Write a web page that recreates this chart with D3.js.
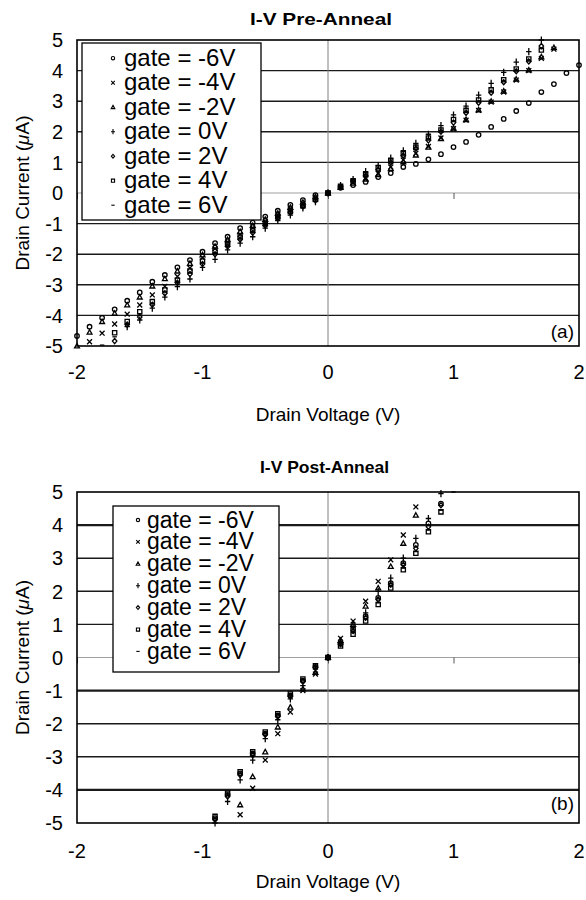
<!DOCTYPE html>
<html lang="en">
<head>
<meta charset="UTF-8">
<title>I-V Pre/Post Anneal</title>
<script src="https://d3js.org/d3.v7.min.js"></script>
<style>
  body { margin: 0; background: #fff; }
  svg { display: block; font-family: "Liberation Sans", Arial, sans-serif; }
</style>
</head>
<body>
<div id="chart"></div>
<script>
// gate voltages and labels
const gates = ["-6V", "-4V", "-2V", "0V", "2V", "4V", "6V"];

// pre-anneal: drain voltage sweep
const preVolts = [-2.0,-1.9,-1.8,-1.7,-1.6,-1.5,-1.4,-1.3,-1.2,-1.1,-1.0,-0.9,-0.8,-0.7,-0.6,-0.5,-0.4,-0.3,-0.2,-0.1,
  0,0.1,0.2,0.3,0.4,0.5,0.6,0.7,0.8,0.9,1.0,1.1,1.2,1.3,1.4,1.5,1.6,1.7,1.8,1.9,2.0];
const preM6 = [-4.67,-4.37,-4.08,-3.8,-3.52,-3.25,-2.9,-2.68,-2.43,-2.19,-1.92,-1.64,-1.43,-1.15,-0.97,-0.77,-0.58,-0.39,-0.23,-0.07,
  0,0.17,0.26,0.36,0.52,0.65,0.85,0.95,1.1,1.27,1.5,1.67,1.9,2.16,2.42,2.68,2.94,3.3,3.56,3.92,4.18];
const preM4 = [null,-4.86,-4.58,-4.28,-3.96,-3.66,-3.33,-3.05,-2.73,-2.45,-2.12,-1.82,-1.6,-1.36,-1.14,-0.93,-0.72,-0.53,-0.35,-0.15,
  0,0.2,0.34,0.48,0.64,0.85,1.08,1.3,1.52,1.8,2.1,2.38,2.7,2.97,3.3,3.69,4.0,4.4,4.7,null,null];
const preM2 = [-5.0,-4.55,-4.2,-3.93,-3.66,-3.4,-3.04,-2.8,-2.55,-2.3,-2.02,-1.74,-1.52,-1.26,-1.06,-0.86,-0.66,-0.47,-0.3,-0.12,
  0,0.18,0.32,0.45,0.6,0.8,1.02,1.24,1.5,1.78,2.12,2.4,2.72,3.0,3.33,3.72,4.02,4.45,4.75,null,null];
const pre0 = [null,null,null,null,-4.37,-4.15,-3.76,-3.4,-3.06,-2.81,-2.43,-2.17,-1.86,-1.64,-1.43,-1.15,-0.9,-0.72,-0.49,-0.28,
  0,0.24,0.44,0.7,0.9,1.14,1.38,1.62,1.92,2.2,2.55,2.84,3.2,3.58,3.94,4.28,4.62,5.0,null,null,null];
const preP2 = [null,null,null,-4.84,-4.3,-4.05,-3.65,-3.28,-2.93,-2.65,-2.32,-2.0,-1.75,-1.52,-1.3,-1.06,-0.82,-0.64,-0.44,-0.24,
  0,0.21,0.38,0.56,0.76,1.0,1.22,1.45,1.72,2.0,2.3,2.62,2.95,3.28,3.62,3.98,4.3,4.8,null,null,null];
const preP4 = [null,null,null,-4.57,-4.2,-3.88,-3.55,-3.17,-2.85,-2.55,-2.22,-1.9,-1.67,-1.44,-1.22,-1.0,-0.78,-0.6,-0.4,-0.2,
  0,0.22,0.4,0.6,0.82,1.05,1.28,1.5,1.8,2.06,2.4,2.7,3.04,3.37,3.7,4.05,4.38,4.67,null,null,null];
const preP6 = [null,null,-4.97,-4.7,-4.3,-3.95,-3.6,-3.22,-2.9,-2.6,-2.28,-1.95,-1.7,-1.48,-1.26,-1.03,-0.8,-0.62,-0.42,-0.22,
  0,0.22,0.4,0.58,0.8,1.02,1.25,1.48,1.76,2.03,2.35,2.66,3.0,3.32,3.66,4.0,4.34,4.72,null,null,null];

// post-anneal
const postVolts = [-0.9,-0.8,-0.7,-0.6,-0.5,-0.4,-0.3,-0.2,-0.1,0,0.1,0.2,0.3,0.4,0.5,0.6,0.7,0.8,0.9,1.0];
const postM6 = [-4.85,-4.15,-3.5,-2.9,-2.3,-1.75,-1.15,-0.7,-0.28,0,0.42,0.85,1.25,1.8,2.25,2.85,3.4,4.05,4.65,null];
const postM4 = [null,null,-4.75,-3.95,-3.1,-2.3,-1.65,-1.0,-0.5,0,0.58,1.1,1.7,2.3,2.95,3.7,4.55,null,null,null];
const postM2 = [null,null,-4.45,-3.6,-2.85,-2.1,-1.5,-0.95,-0.45,0,0.52,1.0,1.55,2.1,2.75,3.45,4.3,null,null,null];
const post0 = [-5.0,-4.35,-3.7,-3.1,-2.45,-1.88,-1.25,-0.85,-0.35,0,0.45,0.9,1.35,2.0,2.4,3.0,3.6,4.2,4.95,null];
const postP2 = [-4.9,-4.2,-3.55,-2.95,-2.33,-1.78,-1.18,-0.72,-0.3,0,0.4,0.8,1.2,1.75,2.2,2.8,3.3,3.95,4.6,null];
const postP4 = [-4.8,-4.1,-3.45,-2.85,-2.25,-1.7,-1.1,-0.65,-0.25,0,0.35,0.7,1.1,1.6,2.1,2.65,3.15,3.8,4.4,null];
const postP6 = [-4.85,-4.12,-3.5,-2.87,-2.27,-1.72,-1.12,-0.68,-0.27,0,0.38,0.75,1.15,1.65,2.15,2.7,3.2,3.85,4.45,5.0];

const xTicks = [-2, -1, 0, 1, 2];
const yTicks = [-5, -4, -3, -2, -1, 0, 1, 2, 3, 4, 5];

// marker shapes, size = (2r)^2
const half = s => Math.sqrt(s) / 2;
const markers = [
  { draw(c, s) { const r = half(s); c.moveTo(r, 0); c.arc(0, 0, r, 0, 2 * Math.PI); } },
  { draw(c, s) { const r = half(s) * 1.1; c.moveTo(-r, -r); c.lineTo(r, r); c.moveTo(-r, r); c.lineTo(r, -r); } },
  { draw(c, s) { const r = half(s) * 1.1; c.moveTo(0, -r); c.lineTo(r, r * 0.8); c.lineTo(-r, r * 0.8); c.closePath(); } },
  { draw(c, s) { const r = half(s); c.moveTo(0, -r * 1.6); c.lineTo(0, r * 1.6); c.moveTo(-r * 1.2, 0); c.lineTo(r * 1.2, 0); } },
  { draw(c, s) { const r = half(s); c.moveTo(0, -r * 1.15); c.lineTo(r, 0); c.lineTo(0, r * 1.15); c.lineTo(-r, 0); c.closePath(); } },
  { draw(c, s) { const r = half(s) * 0.95; c.rect(-r, -r, 2 * r, 2 * r); } },
  { draw(c, s) { const r = half(s); c.moveTo(-r, 0); c.lineTo(r, 0); } }
];

const W = 586, H = 900;
const svg = d3.select("#chart").append("svg").attr("width", W).attr("height", H);

function panel(cfg) {
  const x = d3.scaleLinear().domain([-2, 2]).range([77, 579]);
  const y = d3.scaleLinear().domain([-5, 5]).range([cfg.y1, cfg.y0]);
  const g = svg.append("g");

  // horizontal gridlines
  g.selectAll("line.grid").data(yTicks.filter(v => v !== 0 && Math.abs(v) !== 5)).join("line")
    .attr("x1", x(-2)).attr("x2", x(2))
    .attr("y1", d => y(d)).attr("y2", d => y(d))
    .attr("stroke", "#1a1a1a")
    .attr("stroke-width", d => cfg.heavy.includes(d) ? 2.2 : 1.4);

  g.append("line").attr("x1", x(-2)).attr("x2", x(2)).attr("y1", y(0)).attr("y2", y(0))
    .attr("stroke", "#a0a0a0").attr("stroke-width", 1.2);
  g.append("line").attr("x1", x(0)).attr("x2", x(0)).attr("y1", y(5)).attr("y2", y(-5))
    .attr("stroke", "#808080").attr("stroke-width", 1);

  // small tick marks along y=0
  g.append("g").attr("transform", `translate(0,${y(0)})`)
    .call(d3.axisBottom(x).tickValues(xTicks).tickSize(6).tickFormat(""))
    .call(a => a.select(".domain").remove())
    .call(a => a.selectAll("line").attr("stroke", "#555"));

  // data
  cfg.series.forEach((vals, si) => {
    const pts = cfg.volts.map((v, i) => [v, vals[i]]).filter(p => p[1] !== null);
    g.append("g").selectAll("path").data(pts).join("path")
      .attr("transform", d => `translate(${x(d[0])},${y(d[1])})`)
      .attr("d", d3.symbol().type(markers[si]).size(20))
      .attr("fill", "none").attr("stroke", "#000").attr("stroke-width", 1.3);
  });

  // frame
  g.append("rect").attr("x", x(-2)).attr("y", y(5))
    .attr("width", x(2) - x(-2)).attr("height", y(-5) - y(5))
    .attr("fill", "none").attr("stroke", "#000").attr("stroke-width", 1.6);

  // tick labels
  g.selectAll("text.yt").data(yTicks).join("text")
    .attr("x", 63).attr("y", d => y(d)).attr("dy", "0.36em")
    .attr("text-anchor", "end").attr("font-size", 20).text(d => d);
  g.selectAll("text.xt").data(xTicks).join("text")
    .attr("x", d => x(d)).attr("y", cfg.tickY)
    .attr("text-anchor", "middle").attr("font-size", 20).text(d => d);

  // titles
  g.append("text").attr("x", cfg.titleX).attr("y", cfg.titleY)
    .attr("text-anchor", "middle").attr("font-size", 17).attr("font-weight", "bold")
    .attr("textLength", cfg.titleLen).attr("lengthAdjust", "spacingAndGlyphs")
    .text(cfg.title);
  g.append("text").attr("x", x(0)).attr("y", cfg.xTitleY)
    .attr("text-anchor", "middle").attr("font-size", 19).text("Drain Voltage (V)");
  const yt = g.append("text").attr("transform", `translate(29,${(cfg.y0 + cfg.y1) / 2}) rotate(-90)`)
    .attr("text-anchor", "middle").attr("font-size", 19);
  yt.append("tspan").text("Drain Current (");
  yt.append("tspan").attr("font-style", "italic").text("\u03BC");
  yt.append("tspan").text("A)");
  g.append("text").attr("x", 574).attr("y", cfg.labelY)
    .attr("text-anchor", "end").attr("font-size", 19).text(cfg.label);

  // legend
  const L = cfg.legend;
  g.append("rect").attr("x", L.x).attr("y", L.y).attr("width", L.w).attr("height", L.h)
    .attr("fill", "#fff").attr("stroke", "#000").attr("stroke-width", 1.3);
  const items = g.selectAll("g.leg").data(gates).join("g")
    .attr("transform", (d, i) => `translate(0,${L.base + i * L.step})`);
  items.append("path")
    .attr("transform", `translate(${L.mx},-7.5)`)
    .attr("d", (d, i) => d3.symbol().type(markers[i]).size(11)())
    .attr("fill", "none").attr("stroke", "#000").attr("stroke-width", 1.1);
  items.append("text").attr("x", L.tx).attr("y", 0)
    .attr("font-size", L.font).text(d => "gate = " + d);
}

panel({
  title: "I-V Pre-Anneal", titleX: 321, titleY: 25, titleLen: 142,
  y0: 40, y1: 346, tickY: 379, xTitleY: 421, label: "(a)", labelY: 338,
  heavy: [],
  volts: preVolts,
  series: [preM6, preM4, preM2, pre0, preP2, preP4, preP6],
  legend: { x: 82, y: 43, w: 179, h: 177, mx: 113, tx: 124, base: 65.7, step: 24.5, font: 24 }
});

panel({
  title: "I-V Post-Anneal", titleX: 324.5, titleY: 473, titleLen: 129,
  y0: 492, y1: 823, tickY: 858, xTitleY: 888, label: "(b)", labelY: 810,
  heavy: [4, -1, -4],
  volts: postVolts,
  series: [postM6, postM4, postM2, post0, postP2, postP4, postP6],
  legend: { x: 113, y: 506, w: 166, h: 166, mx: 138, tx: 147, base: 527.5, step: 21.9, font: 23 }
});
</script>
</body>
</html>
